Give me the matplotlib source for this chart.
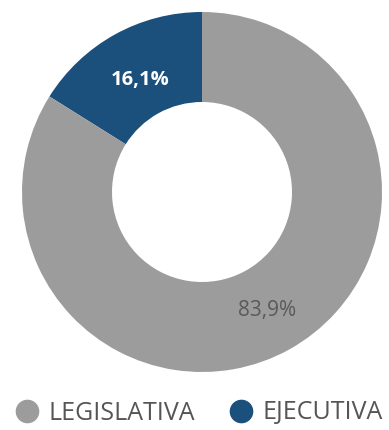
import matplotlib
matplotlib.use("Agg")
import matplotlib.pyplot as plt
from matplotlib.lines import Line2D
import numpy as np

categories = ["EJECUTIVA", "LEGISLATIVA"]
values = [16.1, 83.9]
labels = ["16,1%", "83,9%"]
colors = ["#1b4f7c", "#9c9c9c"]

W, H = 389, 430
fig = plt.figure(figsize=(W / 100, H / 100), dpi=100)
ax = fig.add_axes([22 / W, (H - 372) / H, 360 / W, 360 / H])
wedges, _ = ax.pie(values, colors=colors, startangle=90, counterclock=True,
                   radius=1.0, wedgeprops=dict(width=0.5, linewidth=0))
ax.set_xlim(-1, 1)
ax.set_ylim(-1, 1)
ax.set_aspect("equal")
ax.axis("off")

# labels at wedge midpoints
start = 90.0
mids = []
for v in values:
    mids.append(start + 360 * v / 100 / 2)
    start += 360 * v / 100
a0 = np.deg2rad(mids[0])
ax.text(0.71 * np.cos(a0), 0.71 * np.sin(a0), labels[0],
        color="white", fontsize=14.5, fontweight="bold", family="Open Sans",
        ha="center", va="center")
a1 = np.deg2rad(mids[1])
ax.text(0.75 * np.cos(a1), 0.75 * np.sin(a1), labels[1],
        color="#5a5a5a", fontsize=15, family="Open Sans",
        ha="center", va="center")

handles = [Line2D([0], [0], marker="o", linestyle="", markersize=16,
                  markerfacecolor=colors[1], markeredgecolor=colors[1]),
           Line2D([0], [0], marker="o", linestyle="", markersize=16,
                  markerfacecolor=colors[0], markeredgecolor=colors[0])]
leg = fig.legend(handles, [categories[1], categories[0]], ncol=2,
                 loc="center", bbox_to_anchor=(199 / W, 1 - 413 / H),
                 frameon=False, handlelength=0.95, handletextpad=0.35,
                 columnspacing=1.4, borderpad=0, borderaxespad=0,
                 prop=dict(family="Open Sans", size=18))
for t in leg.get_texts():
    t.set_color("#555555")

fig.savefig("out.png", dpi=100)
